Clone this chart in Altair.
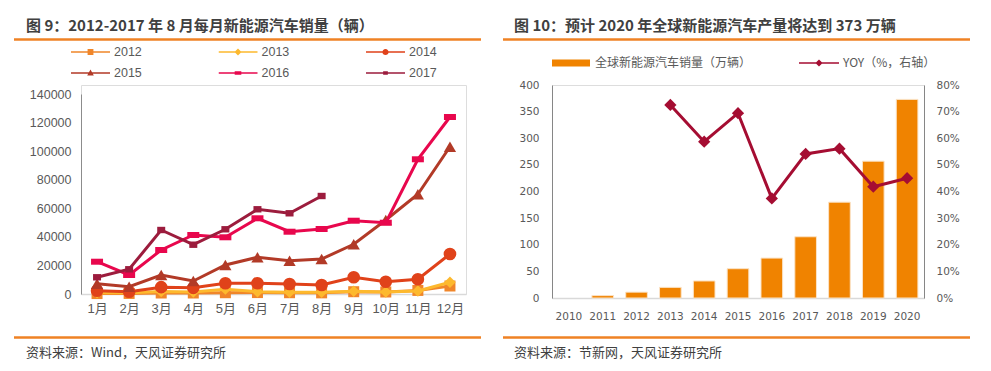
import altair as alt
import pandas as pd

# ---------------- data: left panel ----------------
months = ["1月", "2月", "3月", "4月", "5月", "6月", "7月", "8月", "9月", "10月", "11月", "12月"]
years = ["2012", "2013", "2014", "2015", "2016", "2017"]
s2012 = [300, 400, 700, 700, 900, 1000, 900, 800, 1600, 1400, 2500, 5600]
s2013 = [900, 800, 1700, 1400, 3400, 1600, 1200, 1200, 1900, 1400, 2100, 8200]
s2014 = [2300, 1600, 4800, 4300, 7500, 7500, 7000, 6300, 11700, 8600, 10300, 28000]
s2015 = [7200, 5100, 13300, 9100, 20300, 25700, 23300, 24500, 34800, 51800, 69800, 103100]
s2016 = [22600, 13300, 30800, 41300, 39700, 53000, 43600, 45500, 51300, 49900, 94300, 123900]
s2017 = [11700, 17300, 44800, 34500, 45300, 59300, 56500, 68600]
left_y_ticks = [0, 20000, 40000, 60000, 80000, 100000, 120000, 140000]

# ---------------- data: right panel ----------------
r_years = ["2010", "2011", "2012", "2013", "2014", "2015", "2016", "2017", "2018", "2019", "2020"]
r_sales = [None, 4.5, 11, 20, 32, 55, 75, 115, 180, 257, 373]
r_yoy = [None, None, None, 0.725, 0.587, 0.694, 0.374, 0.541, 0.561, 0.418, 0.45]
r_left_ticks = [0, 50, 100, 150, 200, 250, 300, 350, 400]
r_right_ticks = [0, 0.1, 0.2, 0.3, 0.4, 0.5, 0.6, 0.7, 0.8]
r_series = ["全球新能源汽车销量（万辆）", "YOY（%，右轴）"]

title_left = "图 9：2012-2017 年 8 月每月新能源汽车销量（辆）"
title_right = "图 10：预计 2020 年全球新能源汽车产量将达到 373 万辆"
src_left = "资料来源：Wind，天风证券研究所"
src_right = "资料来源：节新网，天风证券研究所"

# ---------------- styles ----------------
ORANGE_RULE = "#EF8224"
TXT = "#404040"
LBL = "#595959"
CJK = "Noto Sans CJK SC"
colors = ["#F0862A", "#FDB92E", "#E0421A", "#B23A27", "#E8074D", "#9C1C3D"]
marker_shapes = ["square", "diamond", "circle", "triangle-up",
                 "M-1,-0.5H1V0.5H-1Z", "M-1,-0.8H1V0.8H-1Z"]
marker_sizes = [121, 130, 160, 150, 144, 64]
LINE = "M-1,-0.04H1V0.04H-1Z"
legend_paths = [
    LINE + "M-0.15,-0.15H0.15V0.15H-0.15Z",
    LINE + "M0,-0.18L0.18,0L0,0.18L-0.18,0Z",
    LINE + "M-0.16,0A0.16,0.16 0 1,1 0.16,0A0.16,0.16 0 1,1 -0.16,0Z",
    LINE + "M0,-0.18L0.17,0.13L-0.17,0.13Z",
    LINE + "M-0.17,-0.09H0.17V0.09H-0.17Z",
    LINE + "M-0.12,-0.09H0.12V0.09H-0.12Z",
]
BAR = "#F08300"
YOY = "#A50D32"

one = alt.Data(values=[{"a": 1}])


def rule(x1, x2, y):
    return alt.Chart(one).mark_rule(color=ORANGE_RULE, strokeWidth=2.5).encode(
        x=alt.value(x1), x2=alt.value(x2), y=alt.value(y))


def text(s, x, y, size, bold=False):
    return alt.Chart(one).mark_text(
        align="left", baseline="middle", font=CJK, fontSize=size,
        fontWeight="bold" if bold else "normal", color=TXT
    ).encode(x=alt.value(x), y=alt.value(y), text=alt.value(s))


# ---------------- left panel ----------------
rows = []
for yr, vals in zip(years, [s2012, s2013, s2014, s2015, s2016, s2017]):
    for m, v in zip(months, vals):
        rows.append({"month": m, "year": yr, "value": v})
df_left = pd.DataFrame(rows)

W1, H1 = 385, 209
xl = alt.X("month:N", sort=months,
           scale=alt.Scale(type="point", padding=0.5, domain=months),
           axis=alt.Axis(title=None, labelAngle=0, ticks=False, tickSize=0,
                         domainColor="#D9D9D9", domainWidth=1.5,
                         labelFont="Liberation Sans, Noto Sans CJK SC",
                         labelFontSize=13, labelColor=LBL, labelPadding=8))
yl = alt.Y("value:Q", scale=alt.Scale(domain=[0, 140000], nice=False, range=[209, 9]),
           axis=alt.Axis(title=None, values=left_y_ticks, format="d", grid=False,
                         ticks=False, tickSize=0, domainColor="#8C8C8C",
                         labelFont="Liberation Sans", labelFontSize=12.5,
                         labelColor=LBL, labelPadding=10))

base = alt.Chart(df_left)
left_layers = []
for i, yr in enumerate(years):
    sub = base.transform_filter(alt.datum.year == yr)
    left_layers.append(sub.mark_line(color=colors[i], strokeWidth=3).encode(x=xl, y=yl))
    left_layers.append(sub.mark_point(filled=True, opacity=1, color=colors[i],
                                      shape=marker_shapes[i], size=marker_sizes[i]
                                      ).encode(x=xl, y=yl))

leg_left = dict(title=None, orient="none", legendX=-10, legendY=-40, columns=3,
                direction="horizontal",
                columnPadding=76.5, rowPadding=7, symbolSize=1521, clipHeight=14,
                symbolStrokeWidth=0, labelFont="Liberation Sans", labelFontSize=12.5,
                labelColor=LBL, labelOffset=4, padding=0)
legend_left = base.transform_filter("false").mark_point(filled=True, opacity=1).encode(
    x=xl, y=yl,
    color=alt.Color("year:N", scale=alt.Scale(domain=years, range=colors),
                    legend=alt.Legend(**leg_left)),
    shape=alt.Shape("year:N", scale=alt.Scale(domain=years, range=legend_paths),
                    legend=alt.Legend(**leg_left)),
)

left = alt.layer(
    *left_layers, legend_left,
    rule(-67, 400, -45.5), text(title_left, -55, -59.5, 15, True),
    rule(-67, 400, 252.5), text(src_left, -55, 268, 13),
).properties(width=W1, height=H1)

# ---------------- right panel ----------------
df_right = pd.DataFrame({"year": r_years, "sales": r_sales, "yoy": r_yoy})
W2, H2 = 372, 213
xr = alt.X("year:N", sort=r_years,
           scale=alt.Scale(paddingInner=0.36, paddingOuter=0.18),
           axis=alt.Axis(title=None, labelAngle=0, ticks=False, tickSize=0,
                         domainColor="#D9D9D9", domainWidth=1.5,
                         labelFont="DejaVu Sans", labelFontSize=10.5,
                         labelColor=LBL, labelPadding=13))
bars = alt.Chart(df_right).mark_bar(color=BAR, stroke="#FBE3C6", strokeWidth=1).encode(
    x=xr,
    y=alt.Y("sales:Q", scale=alt.Scale(domain=[0, 400], nice=False),
            axis=alt.Axis(title=None, orient="left", values=r_left_ticks, grid=False,
                          ticks=False, tickSize=0, domainColor="#868686",
                          labelFont="DejaVu Sans", labelFontSize=10.5,
                          labelColor=LBL, labelPadding=13)))
yr_enc = alt.Y("yoy:Q", scale=alt.Scale(domain=[0, 0.8], nice=False),
               axis=alt.Axis(title=None, orient="right", values=r_right_ticks,
                             format=".0%", grid=False, ticks=False, tickSize=0,
                             domainColor="#868686", labelFont="DejaVu Sans",
                             labelFontSize=10.5, labelColor=LBL, labelPadding=12))
yoy_layer = alt.layer(
    alt.Chart(df_right).mark_line(color=YOY, strokeWidth=3).encode(x=xr, y=yr_enc),
    alt.Chart(df_right).mark_point(filled=True, opacity=1, color=YOY, shape="diamond",
                                   size=150).encode(x=xr, y=yr_enc),
)

r_legend_paths = [
    "M-0.95,-0.18H0.95V0.18H-0.95Z",
    "M-1,-0.04H1V0.04H-1Z" + "M0,-0.18L0.18,0L0,0.18L-0.18,0Z",
]
leg_right = dict(title=None, orient="none", legendX=-1, legendY=-30, columns=2,
                 direction="horizontal", columnPadding=47, symbolSize=1600,
                 clipHeight=16, symbolStrokeWidth=0, labelFont=CJK, labelFontSize=12,
                 labelColor=LBL, labelOffset=4, padding=0)
legend_right = alt.Chart(alt.Data(values=[{"series": s} for s in r_series])).transform_filter(
    "false").mark_point(filled=True, opacity=1).encode(
    color=alt.Color("series:N", scale=alt.Scale(domain=r_series, range=[BAR, YOY]),
                    legend=alt.Legend(**leg_right)),
    shape=alt.Shape("series:N", scale=alt.Scale(domain=r_series, range=r_legend_paths),
                    legend=alt.Legend(**leg_right)),
)

right = alt.layer(
    bars, yoy_layer, legend_right,
    rule(-49, 418, -45.5), text(title_right, -38, -59.5, 15, True),
    rule(-49, 418, 252.5), text(src_right, -38, 268, 13),
).resolve_scale(y="independent").properties(width=W2, height=H2)

chart = alt.hconcat(left, right, spacing=18).resolve_scale(
    color="independent", shape="independent"
).properties(
    padding={"left": 4, "top": 10, "right": 5, "bottom": 5},
    background="white",
).configure_view(stroke=None).configure(font=CJK)

chart.save("out.html", embed_options={"renderer": "svg", "actions": False})
